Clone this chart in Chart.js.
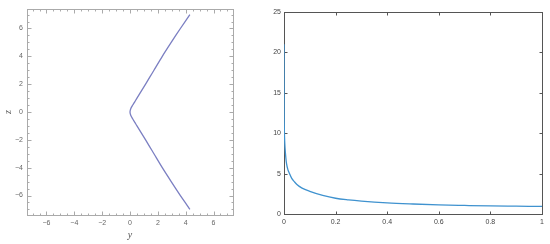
<!DOCTYPE html>
<html>
<head>
<meta charset="utf-8">
<script src="https://cdn.jsdelivr.net/npm/chart.js@4/dist/chart.umd.min.js"></script>
<style>
html,body{margin:0;padding:0;background:#fff;width:550px;height:244px;overflow:hidden;}
#c1{position:absolute;left:0;top:0;}
#c2{position:absolute;left:270px;top:0;}
</style>
</head>
<body>
<canvas id="c1" width="250" height="244"></canvas>
<canvas id="c2" width="280" height="244"></canvas>
<script>
// ---- Left panel: curve in the (y, z) plane ----
const leftZ = [-7,-6,-5,-4,-3,-2.5,-2,-1.5,-1,-0.75,-0.5,-0.25,0,0.25,0.5,0.75,1,1.5,2,2.5,3,4,5,6,7];
const leftY = [4.3,3.62,2.96,2.32,1.72,1.42,1.12,0.81,0.5,0.35,0.2,0.06,0,0.06,0.2,0.35,0.5,0.81,1.12,1.42,1.72,2.32,2.96,3.62,4.3];
const leftXTicks = [-6,-4,-2,0,2,4,6];
const leftYTicks = [-6,-4,-2,0,2,4,6];
const leftXTitle = 'y';
const leftYTitle = 'z';

// ---- Right panel: decaying curve ----
const rightX = [0,0.0005,0.001,0.002,0.004,0.007,0.01,0.015,0.02,0.03,0.04,0.05,0.07,0.1,0.15,0.2,0.25,0.3,0.4,0.5,0.6,0.7,0.8,0.9,1];
const rightV = [21,13,11,9.6,8.2,7.0,6.2,5.5,5.1,4.4,4.0,3.65,3.2,2.8,2.3,1.95,1.75,1.6,1.38,1.24,1.13,1.06,1.0,0.97,0.94];
const rightXTicks = [0,0.2,0.4,0.6,0.8,1];
const rightXLabels = ['0','0.2','0.4','0.6','0.8','1'];
const rightYTicks = [0,5,10,15,20,25];

function boxPlugin(color, majorLen, minorStepX, minorStepY, minorLen) {
  return {
    id: 'box',
    beforeDatasetsDraw(chart) {
      const ctx = chart.ctx, a = chart.chartArea;
      const xs = chart.scales.x, ys = chart.scales.y;
      ctx.save();
      ctx.strokeStyle = color;
      ctx.lineWidth = 1;
      const L = Math.round(a.left) + 0.5, R = Math.round(a.right) + 0.5;
      const T = Math.round(a.top) + 0.5, B = Math.round(a.bottom) + 0.5;
      ctx.strokeRect(L, T, R - L, B - T);
      ctx.beginPath();
      const drawX = (v, len) => {
        const p = Math.round(xs.getPixelForValue(v)) + 0.5;
        if (p < L - 0.1 || p > R + 0.1) return;
        ctx.moveTo(p, B); ctx.lineTo(p, B - len);
        ctx.moveTo(p, T); ctx.lineTo(p, T + len);
      };
      const drawY = (v, len) => {
        const p = Math.round(ys.getPixelForValue(v)) + 0.5;
        if (p < T - 0.1 || p > B + 0.1) return;
        ctx.moveTo(L, p); ctx.lineTo(L + len, p);
        ctx.moveTo(R, p); ctx.lineTo(R - len, p);
      };
      xs.ticks.forEach(t => drawX(t.value, majorLen));
      ys.ticks.forEach(t => drawY(t.value, majorLen));
      if (minorStepX) {
        for (let v = Math.ceil(xs.min / minorStepX) * minorStepX; v <= xs.max; v += minorStepX) drawX(v, minorLen);
      }
      if (minorStepY) {
        for (let v = Math.ceil(ys.min / minorStepY) * minorStepY; v <= ys.max; v += minorStepY) drawY(v, minorLen);
      }
      ctx.stroke();
      ctx.restore();
    }
  };
}

const minus = v => String(v).replace('-', '\u2212');

new Chart(document.getElementById('c1'), {
  type: 'scatter',
  data: {
    datasets: [{
      data: leftZ.map((z, i) => ({x: leftY[i], y: z})),
      showLine: true,
      borderColor: '#7b7fc2',
      borderWidth: 1.3,
      pointRadius: 0,
      tension: 0.3,
      fill: false
    }]
  },
  options: {
    responsive: false, animation: false, devicePixelRatio: 1,
    layout: {padding: {top: 9, right: 17, left: 0, bottom: 0}},
    plugins: {legend: {display: false}, tooltip: {enabled: false}},
    scales: {
      x: {
        type: 'linear', min: -7.4, max: 7.4,
        afterBuildTicks: s => { s.ticks = leftXTicks.map(v => ({value: v})); },
        afterFit: s => { s.height = 29; },
        grid: {display: false, drawTicks: false},
        border: {display: false},
        ticks: {padding: 4, color: '#666', font: {family: 'Liberation Sans', size: 7}, callback: v => minus(v)},
        title: {display: true, text: leftXTitle, color: '#555', padding: {top: 2, bottom: 3},
                font: {family: 'Liberation Serif', size: 10, style: 'italic'}}
      },
      y: {
        type: 'linear', min: -7.4, max: 7.4,
        afterBuildTicks: s => { s.ticks = leftYTicks.map(v => ({value: v})); },
        afterFit: s => { s.width = 27; },
        grid: {display: false, drawTicks: false},
        border: {display: false},
        ticks: {padding: 4, color: '#666', font: {family: 'Liberation Sans', size: 7}, callback: v => minus(v)},
        title: {display: true, text: leftYTitle, color: '#555', padding: {top: 2, bottom: 2},
                font: {family: 'Liberation Serif', size: 10, style: 'italic'}}
      }
    }
  },
  plugins: [boxPlugin('#aaaaaa', 4, 0.5, 0.5, 2)]
});

new Chart(document.getElementById('c2'), {
  type: 'scatter',
  data: {
    datasets: [{
      data: rightX.map((x, i) => ({x: x, y: rightV[i]})),
      showLine: true,
      borderColor: '#3f92cf',
      borderWidth: 1.3,
      pointRadius: 0,
      cubicInterpolationMode: 'monotone',
      fill: false
    }]
  },
  options: {
    responsive: false, animation: false, devicePixelRatio: 1,
    layout: {padding: {top: 12, right: 8, left: 0, bottom: 0}},
    plugins: {legend: {display: false}, tooltip: {enabled: false}},
    scales: {
      x: {
        type: 'linear', min: 0, max: 1,
        afterBuildTicks: s => { s.ticks = rightXTicks.map(v => ({value: v})); },
        afterFit: s => { s.height = 30; },
        grid: {display: false, drawTicks: false},
        border: {display: false},
        ticks: {padding: 4, color: '#444', font: {family: 'Liberation Sans', size: 7},
                callback: (v, i) => rightXLabels[i]},
        title: {display: false}
      },
      y: {
        type: 'linear', min: 0, max: 25,
        afterBuildTicks: s => { s.ticks = rightYTicks.map(v => ({value: v})); },
        afterFit: s => { s.width = 14; },
        grid: {display: false, drawTicks: false},
        border: {display: false},
        ticks: {padding: 3, color: '#444', font: {family: 'Liberation Sans', size: 7}},
        title: {display: false}
      }
    }
  },
  plugins: [boxPlugin('#555555', 3, 0, 0, 0)]
});
</script>
</body>
</html>
